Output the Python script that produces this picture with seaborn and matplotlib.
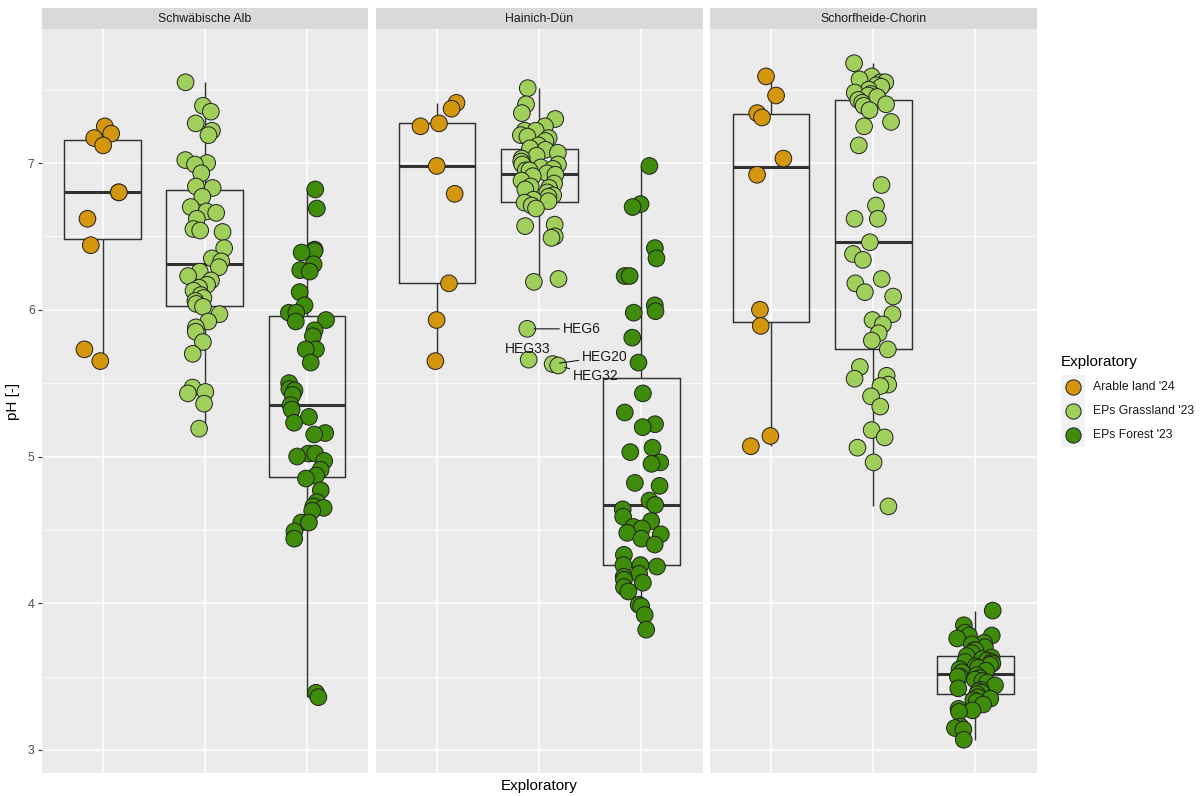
import numpy as np
import pandas as pd
import matplotlib
matplotlib.use("Agg")
import matplotlib.pyplot as plt
from matplotlib.lines import Line2D
from matplotlib.patches import Rectangle
from matplotlib.transforms import offset_copy
import seaborn as sns

# ---------------------------------------------------------------- data
regions = ["Schwäbische Alb", "Hainich-Dün", "Schorfheide-Chorin"]
groups = ["Arable land '24", "EPs Grassland '23", "EPs Forest '23"]
group_colors = ["#D4960C", "#A0CF5C", "#3F8C0A"]
y_ticks = [3, 4, 5, 6, 7]

alb_arable = [7.25, 7.20, 7.17, 7.12, 6.80, 6.80, 6.62, 6.44, 5.73, 5.65]
alb_grassland = [7.55, 7.39, 7.35, 7.27, 7.22, 7.19, 7.02, 7.00, 6.99, 6.93,
                 6.84, 6.83, 6.77, 6.70, 6.67, 6.66, 6.62, 6.55, 6.54, 6.53,
                 6.42, 6.35, 6.33, 6.29, 6.26, 6.23, 6.20, 6.17, 6.15, 6.13,
                 6.10, 6.08, 6.06, 6.04, 6.02, 5.97, 5.92, 5.88, 5.85, 5.78,
                 5.70, 5.47, 5.44, 5.43, 5.36, 5.19]
alb_forest = [6.82, 6.69, 6.41, 6.40, 6.39, 6.31, 6.27, 6.26, 6.12, 6.03,
              5.98, 5.98, 5.93, 5.92, 5.86, 5.82, 5.73, 5.73, 5.64, 5.50,
              5.46, 5.45, 5.42, 5.35, 5.32, 5.27, 5.23, 5.16, 5.15, 5.02,
              5.02, 5.00, 4.97, 4.91, 4.87, 4.85, 4.77, 4.69, 4.66, 4.65,
              4.63, 4.55, 4.55, 4.49, 4.44, 3.39, 3.36]

hai_arable = [7.41, 7.37, 7.27, 7.25, 6.98, 6.79, 6.18, 5.93, 5.65]
hai_grassland = [7.51, 7.40, 7.34, 7.30, 7.25, 7.22, 7.22, 7.19, 7.18, 7.17,
                 7.15, 7.12, 7.10, 7.09, 7.07, 7.05, 7.03, 7.01, 6.99, 6.99,
                 6.97, 6.96, 6.95, 6.95, 6.93, 6.92, 6.91, 6.88, 6.86, 6.84,
                 6.83, 6.82, 6.80, 6.78, 6.77, 6.75, 6.74, 6.73, 6.71, 6.69,
                 6.58, 6.57, 6.50, 6.49, 6.21, 6.19]
hai_grassland_sites = ["HEG6", "HEG33", "HEG20", "HEG32"]
hai_grassland_site_ph = [5.87, 5.66, 5.63, 5.62]
hai_forest = [6.98, 6.72, 6.70, 6.42, 6.35, 6.23, 6.23, 6.03, 5.99, 5.98,
              5.81, 5.64, 5.43, 5.30, 5.22, 5.20, 5.06, 5.03, 4.96, 4.95,
              4.82, 4.80, 4.70, 4.67, 4.64, 4.59, 4.56, 4.52, 4.51, 4.48,
              4.47, 4.44, 4.40, 4.33, 4.26, 4.26, 4.25, 4.20, 4.18, 4.16,
              4.14, 4.11, 4.08, 3.99, 3.98, 3.92, 3.82]

sch_arable = [7.59, 7.46, 7.34, 7.31, 7.03, 6.92, 6.00, 5.89, 5.14, 5.07]
sch_grassland = [7.68, 7.59, 7.57, 7.55, 7.55, 7.53, 7.52, 7.50, 7.48, 7.47,
                 7.46, 7.45, 7.43, 7.41, 7.40, 7.39, 7.36, 7.28, 7.25, 7.12,
                 6.85, 6.71, 6.62, 6.62, 6.46, 6.38, 6.34, 6.21, 6.18, 6.12,
                 6.09, 5.97, 5.93, 5.90, 5.84, 5.79, 5.73, 5.61, 5.55, 5.53,
                 5.49, 5.48, 5.41, 5.34, 5.18, 5.13, 5.06, 4.96, 4.66]
sch_forest = [3.95, 3.85, 3.80, 3.78, 3.78, 3.76, 3.73, 3.72, 3.70, 3.68,
              3.68, 3.66, 3.64, 3.63, 3.62, 3.61, 3.60, 3.60, 3.59, 3.58,
              3.57, 3.56, 3.55, 3.54, 3.53, 3.51, 3.50, 3.50, 3.49, 3.48,
              3.47, 3.46, 3.44, 3.42, 3.41, 3.40, 3.39, 3.38, 3.36, 3.35,
              3.34, 3.33, 3.31, 3.28, 3.27, 3.26, 3.16, 3.15, 3.14, 3.07]

# ------------------------------------------------------- long-form table
rows = []
def add(region, group, values, sites=None):
    for k, v in enumerate(values):
        rows.append({"region": region, "group": group, "ph": v,
                     "site": sites[k] if sites else ""})

add(regions[0], groups[0], alb_arable)
add(regions[0], groups[1], alb_grassland)
add(regions[0], groups[2], alb_forest)
add(regions[1], groups[0], hai_arable)
add(regions[1], groups[1], hai_grassland)
add(regions[1], groups[1], hai_grassland_site_ph, hai_grassland_sites)
add(regions[1], groups[2], hai_forest)
add(regions[2], groups[0], sch_arable)
add(regions[2], groups[1], sch_grassland)
add(regions[2], groups[2], sch_forest)
df = pd.DataFrame(rows)

# ------------------------------------------------------------- styling
sns.set_theme(style="darkgrid", rc={"axes.facecolor": "#EBEBEB",
                                    "grid.color": "white"})
plt.rcParams["font.family"] = ["Liberation Sans", "DejaVu Sans"]

W, H = 1201, 796
fig = plt.figure(figsize=(W / 100, H / 100), dpi=100)
fig.patch.set_facecolor("white")

def fx(px):
    return px / W

def fy(py):
    return 1 - py / H

panel_left = [41.5, 376.0, 710.0]
panel_w = 326.5
top_px, bot_px, strip_top = 29.3, 772.7, 8.0
px_per_unit = 146.75
ylim = (3 - (bot_px - 750) / px_per_unit, 3 + (750 - top_px) / px_per_unit)

np.random.seed(3)
axes = []
for i, region in enumerate(regions):
    ax = fig.add_axes([fx(panel_left[i]), fy(bot_px), fx(panel_w),
                       (bot_px - top_px) / H])
    sub = df[df["region"] == region]
    sns.boxplot(data=sub, x="group", y="ph", order=groups, fill=False,
                color="#333333", width=0.75, whis=1.5, showfliers=False,
                showcaps=False, linewidth=1.05,
                medianprops={"linewidth": 2.2}, ax=ax)
    sns.stripplot(data=sub, x="group", y="ph", hue="group", order=groups,
                  hue_order=groups, palette=group_colors, jitter=0.2,
                  size=12, linewidth=0.7, edgecolor="#1F1F1F", legend=False,
                  zorder=3, ax=ax)
    ax.set_xlim(-0.6, 2.6)
    ax.set_ylim(*ylim)
    ax.set_yticks(y_ticks)
    ax.set_yticks([3.5, 4.5, 5.5, 6.5, 7.5], minor=True)
    ax.set_axisbelow(True)
    ax.grid(True, which="major", axis="both", color="white", linewidth=1.1)
    ax.grid(True, which="minor", axis="y", color="white", linewidth=0.55)
    ax.set_xlabel("")
    ax.set_ylabel("")
    ax.tick_params(axis="x", which="both", bottom=False, labelbottom=False)
    ax.tick_params(axis="y", which="minor", left=False)
    if i == 0:
        ax.tick_params(axis="y", which="major", left=True, length=2.75,
                       width=0.8, color="#333333", pad=2.2, labelsize=8.8,
                       labelcolor="#4D4D4D")
    else:
        ax.tick_params(axis="y", which="major", left=False, labelleft=False)
    for s in ax.spines.values():
        s.set_visible(False)
    axes.append(ax)

    # facet strip
    sax = fig.add_axes([fx(panel_left[i]), fy(top_px), fx(panel_w),
                        (top_px - strip_top) / H])
    sax.set_facecolor("#D9D9D9")
    sax.grid(False)
    sax.set_xticks([])
    sax.set_yticks([])
    for s in sax.spines.values():
        s.set_visible(False)
    sax.text(0.5, 0.5, region, ha="center", va="center", fontsize=8.8,
             color="#1A1A1A", transform=sax.transAxes)

# --------------------------------------------------- site labels (Hainich)
# label offsets (points) from the grassland category centre at the site's pH
ax = axes[1]
label_layout = {
    "HEG6": ((16.8, 0.0), "left", True),
    "HEG33": ((-8.1, 7.7), "center", False),
    "HEG20": ((30.7, 5.3), "left", True),
    "HEG32": ((24.3, -7.6), "left", True),
}
grass_pos = groups.index(groups[1])
for site, val in zip(hai_grassland_sites, hai_grassland_site_ph):
    for coll in ax.collections:
        offs = np.asarray(coll.get_offsets())
        if offs.size == 0:
            continue
        hit = np.where((np.abs(offs[:, 0] - grass_pos) < 0.5) &
                       np.isclose(offs[:, 1], val))[0]
        if len(hit):
            px, py = offs[hit[0]]
            (dx, dy), ha, seg = label_layout[site]
            text_tr = offset_copy(ax.transData, fig=fig, x=dx, y=dy,
                                  units="points")
            arrow = dict(arrowstyle="-", color="#1A1A1A", lw=0.8,
                         shrinkA=0, shrinkB=5) if seg else None
            ax.annotate(site, xy=(px, py), xytext=(grass_pos, val),
                        textcoords=text_tr, ha=ha, va="center",
                        fontsize=10, color="#1A1A1A", arrowprops=arrow,
                        zorder=4)
            break

# ------------------------------------------------------------ axis titles
fig.text(fx(13), fy((top_px + bot_px) / 2), "pH [-]", rotation=90,
         ha="center", va="center", fontsize=11, color="black")
fig.text(fx((panel_left[0] + panel_left[2] + panel_w) / 2), fy(786),
         "Exploratory", ha="center", va="center", fontsize=11, color="black")

# ----------------------------------------------------------------- legend
key_px = 24.0
key_top = 375.0
fig.text(fx(1061), fy(362), "Exploratory", ha="left", va="center",
         fontsize=11, color="black")
fig.patches.append(Rectangle((fx(1061), fy(key_top + 3 * key_px)),
                             fx(key_px), 3 * key_px / H,
                             transform=fig.transFigure, facecolor="#F2F2F2",
                             edgecolor="none", zorder=1))
for k, (g, c) in enumerate(zip(groups, group_colors)):
    yk = key_top + key_px * (k + 0.5)
    fig.add_artist(Line2D([fx(1061 + key_px / 2)], [fy(yk)],
                          transform=fig.transFigure, marker="o",
                          linestyle="", markersize=11, markerfacecolor=c,
                          markeredgecolor="#1F1F1F", markeredgewidth=0.7,
                          zorder=3))
    fig.text(fx(1093), fy(yk), g, ha="left", va="center", fontsize=8.8,
             color="#1A1A1A")

fig.savefig("out.png", dpi=100, facecolor="white")
